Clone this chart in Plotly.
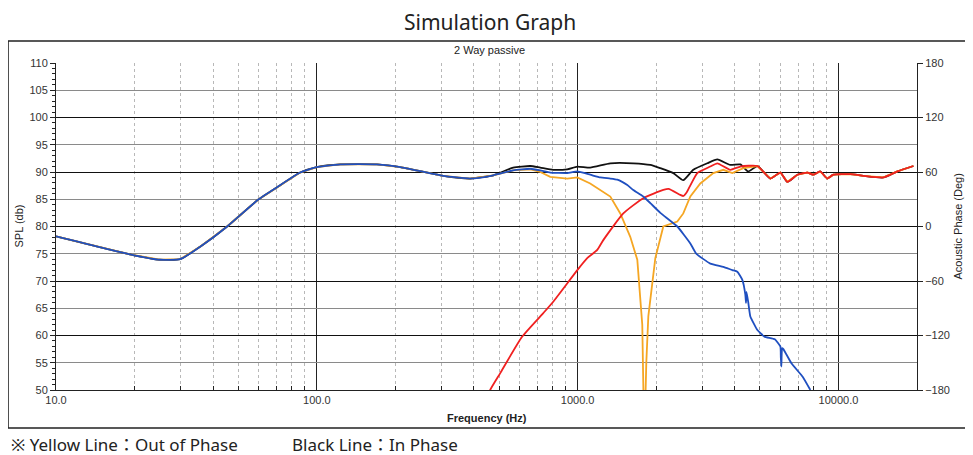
import plotly.graph_objects as go

# ---- data (frequency in Hz, SPL in dB) ----
woofer_f = [10, 19.2, 25, 29.9, 35.7, 45.3, 59.5, 70.4, 86.3, 100, 123, 170, 209, 305, 387, 475,
            566, 658, 719, 785, 912, 997, 1117, 1221, 1334, 1419, 1550, 1634, 1785, 1899, 2075,
            2410, 2704, 2850, 3225, 3618, 3917, 4094, 4279, 4394, 4420, 4440, 4512, 4593, 4887,
            5200, 5700, 5986, 6010, 6039, 6080, 6147, 6600, 7300, 7801]
woofer_db = [78.2, 74.9, 73.9, 74.0, 76.3, 80.0, 84.9, 87.2, 89.9, 90.9, 91.4, 91.4, 90.9, 89.3, 88.8, 89.4,
             90.3, 90.6, 90.3, 89.9, 89.8, 90.1, 89.5, 89.0, 88.8, 88.6, 87.6, 86.7, 85.5, 84.3, 82.5,
             80.0, 76.9, 75.0, 73.2, 72.6, 72.0, 71.7, 70.2, 67.5, 66.0, 68.0, 66.0, 63.5, 61.0,
             59.8, 59.3, 58.0, 56.0, 54.3, 57.7, 57.5, 54.9, 52.4, 50.0]

sum_in_f = [10, 19.2, 25, 29.9, 35.7, 45.3, 59.5, 70.4, 86.3, 100, 123, 170, 209, 305, 387, 475,
            566, 658, 719, 806, 912, 997, 1117, 1334, 1634, 1899, 2075, 2327, 2541, 2776, 3142,
            3432, 3847, 4204, 4512, 4887, 5482, 5986, 6368, 6958, 7599, 8010, 8500, 9066, 9560,
            11110, 12460, 14870, 16820, 19380]
sum_in_db = [78.2, 74.9, 73.9, 74.0, 76.3, 80.0, 84.9, 87.2, 89.9, 90.9, 91.4, 91.4, 90.9, 89.3, 88.8, 89.4,
             90.8, 91.1, 90.8, 90.4, 90.5, 91.0, 90.8, 91.6, 91.6, 91.3, 90.7, 89.8, 88.5, 90.4, 91.6,
             92.3, 91.3, 91.4, 90.1, 91.1, 88.8, 89.9, 88.2, 89.5, 89.9, 89.5, 90.1, 88.8, 89.5,
             89.6, 89.3, 89.0, 90.1, 91.1]

sum_out_f = [10, 19.2, 25, 29.9, 35.7, 45.3, 59.5, 70.4, 86.3, 100, 123, 170, 209, 305, 387, 475,
             566, 658, 719, 785, 912, 997, 1117, 1334, 1457, 1591, 1693, 1769, 1801, 1833, 1866,
             1933, 1985, 2130, 2410, 2541, 2704, 2953, 3312, 3618, 3917, 4317, 4887, 5482, 5986,
             6368, 6958, 7599, 8010, 8500, 9066, 9560, 11110, 12460, 14870, 16820, 19380]
sum_out_db = [78.2, 74.9, 73.9, 74.0, 76.3, 80.0, 84.9, 87.2, 89.9, 90.9, 91.4, 91.4, 90.9, 89.3, 88.8, 89.4,
              90.3, 90.5, 90.0, 89.1, 88.8, 89.0, 87.9, 85.5, 82.4, 78.1, 73.9, 62.0, 40.0, 55.0, 63.5,
              69.6, 74.2, 80.0, 80.9, 82.4, 85.5, 87.9, 89.8, 90.4, 89.8, 90.7, 91.1, 88.8, 89.9,
              88.2, 89.5, 89.9, 89.5, 90.1, 88.8, 89.5, 89.6, 89.3, 89.0, 90.1, 91.1]

tweeter_f = [440, 462, 505, 613, 738, 806, 997, 1088, 1189, 1254, 1496, 1785, 2130, 2230, 2475, 2541,
             2620, 2876, 3225, 3432, 3847, 4204, 4887, 5482, 5986, 6368, 6958, 7599, 8010, 8500,
             9066, 9560, 11110, 12460, 14870, 16820, 19380]
tweeter_db = [47.0, 50.0, 53.1, 59.8, 64.1, 66.2, 72.0, 74.2, 75.7, 77.5, 82.4, 85.2, 86.7, 86.9, 85.8, 85.6,
              86.3, 89.8, 91.0, 91.6, 90.4, 91.0, 91.1, 88.8, 89.9, 88.2, 89.5, 89.9, 89.5, 90.1,
              88.8, 89.5, 89.6, 89.3, 89.0, 90.1, 91.1]

x_tick_vals = [10, 100, 1000, 10000]
x_tick_text = ["10.0", "100.0", "1000.0", "10000.0"]
y_tick_vals = list(range(50, 111, 5))
phase_tick_vals = [-180, -120, -60, 0, 60, 120, 180]

BLUE = "#1f4fc0"
RED = "#f02020"
YELLOW = "#f5a623"
BLACK = "#111111"

fig = go.Figure()
fig.add_trace(go.Scatter(x=sum_in_f, y=sum_in_db, mode="lines",
                         line=dict(color=BLACK, width=1.8, shape="spline", smoothing=0.5), name="In phase"))
fig.add_trace(go.Scatter(x=sum_out_f, y=sum_out_db, mode="lines",
                         line=dict(color=YELLOW, width=1.8), name="Out of phase"))
fig.add_trace(go.Scatter(x=tweeter_f, y=tweeter_db, mode="lines",
                         line=dict(color=RED, width=1.8, shape="spline", smoothing=0.5), name="Tweeter"))
fig.add_trace(go.Scatter(x=woofer_f, y=woofer_db, mode="lines",
                         line=dict(color=BLUE, width=1.8, shape="spline", smoothing=0.4), name="Woofer"))
# invisible trace to anchor the phase axis
fig.add_trace(go.Scatter(x=[10, 20000], y=[-180, 180], yaxis="y2", mode="lines",
                         line=dict(color="rgba(0,0,0,0)"), hoverinfo="skip", showlegend=False))

tick_font = dict(family="Liberation Sans, Arial, sans-serif", size=11, color="#333")

# The page body has an 8px margin, so the figure is laid out 8px up/left of the reference pixels.
fig.update_layout(
    width=965, height=447,
    margin=dict(l=48, r=56, t=55, b=65),
    paper_bgcolor="white", plot_bgcolor="white",
    showlegend=False,
    font=tick_font,
    xaxis=dict(type="log", range=[1, 4.30103], tickvals=x_tick_vals, ticktext=x_tick_text,
               showgrid=True, gridcolor="#222", gridwidth=1,
               showline=True, linecolor="#222", linewidth=1,
               ticks="inside", ticklen=4, tickcolor="#222",
               minor=dict(dtick="D1", showgrid=True, gridcolor="#b8b8b8", griddash="dot", gridwidth=1,
                          ticks="inside", ticklen=4, tickcolor="#222"),
               zeroline=False, tickfont=tick_font),
    yaxis=dict(range=[50, 110], tickvals=y_tick_vals, showgrid=True, gridcolor="#8a8a8a", gridwidth=1.2,
               showline=True, linecolor="#222", linewidth=1,
               ticks="outside", ticklen=5, tickcolor="#222",
               minor=dict(dtick=1, ticks="outside", ticklen=3, tickcolor="#222", showgrid=False),
               zeroline=False, tickfont=tick_font),
    yaxis2=dict(range=[-180, 180], tickvals=phase_tick_vals, overlaying="y", side="right",
                showgrid=True, gridcolor="#111", gridwidth=1,
                showline=True, linecolor="#222", linewidth=1,
                ticks="outside", ticklen=5, tickcolor="#222",
                zeroline=False, tickfont=tick_font),
)

# outer frame
fig.add_shape(type="rect", xref="paper", yref="paper", x0=-0.0557, x1=1.0604, y0=-0.1162, y1=1.0673,
              line=dict(color="#222", width=1.5), layer="below")

ann = [
    dict(text="Simulation Graph", x=0.504, y=1.1254, font=dict(family="Noto Sans, sans-serif", size=21, color="#222")),
    dict(text="2 Way passive", x=0.504, y=1.0398, font=dict(family="Liberation Sans, Arial", size=11, color="#222")),
    dict(text="<b>Frequency (Hz)</b>", x=0.5, y=-0.0856, font=dict(family="Liberation Sans, Arial", size=11, color="#222")),
    dict(text="SPL (db)", x=-0.0441, y=0.5, textangle=-90, font=dict(family="Liberation Sans, Arial", size=11, color="#222")),
    dict(text="Acoustic Phase (Deg)", x=1.0465, y=0.5, textangle=-90, font=dict(family="Liberation Sans, Arial", size=11, color="#222")),
]
for a in ann:
    fig.add_annotation(xref="paper", yref="paper", showarrow=False, xanchor="center", yanchor="middle", **a)

footer_font = dict(family="Noto Sans, Noto Sans CJK KR, sans-serif", size=17, color="#222")
fig.add_annotation(xref="paper", yref="paper", showarrow=False, xanchor="left", yanchor="middle",
                   x=-0.0545, y=-0.168, text="※ Yellow Line：Out of Phase", font=footer_font)
fig.add_annotation(xref="paper", yref="paper", showarrow=False, xanchor="left", yanchor="middle",
                   x=0.2718, y=-0.168, text="Black Line：In Phase", font=footer_font)

fig.write_html("out.html")
